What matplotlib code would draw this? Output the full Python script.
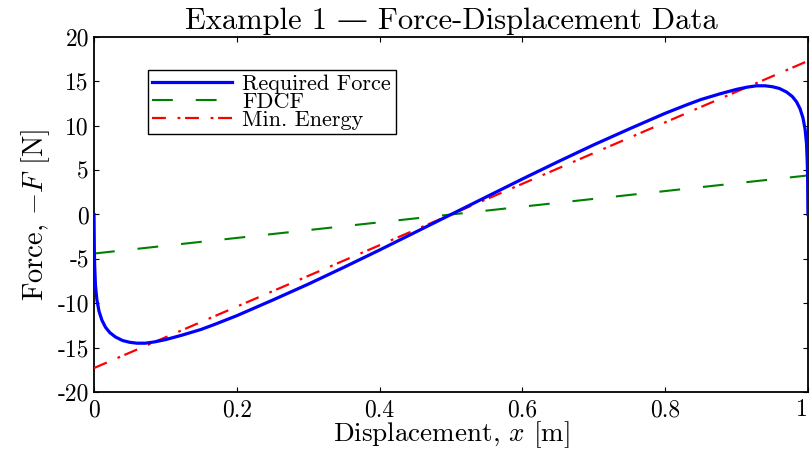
from matplotlib import pyplot as plt

plt.rcParams['font.family'] = ['cmr10', 'DejaVu Serif']
plt.rcParams['mathtext.fontset'] = 'cm'
plt.rcParams['axes.unicode_minus'] = False
plt.rcParams['lines.scale_dashes'] = False

# required force curve, F(x)
x_req = [0, 0.0005, 0.001, 0.002, 0.004, 0.007, 0.011, 0.016, 0.022, 0.03, 0.04, 0.05, 0.06, 0.072, 0.085,
         0.1, 0.123, 0.15, 0.17, 0.2, 0.25, 0.3, 0.35, 0.4, 0.45, 0.5,
         0.55, 0.6, 0.65, 0.7, 0.75, 0.8, 0.83, 0.85, 0.877, 0.9, 0.915, 0.928, 0.94, 0.95, 0.96,
         0.97, 0.978, 0.984, 0.989, 0.993, 0.996, 0.998, 0.999, 0.9995, 1.0]
f_req = [0, -4.5, -6.0, -8.0, -9.6, -10.9, -11.9, -12.7, -13.3, -13.8, -14.2, -14.4, -14.5, -14.5, -14.35,
         -14.1, -13.6, -12.95, -12.35, -11.4, -9.65, -7.85, -5.95, -4.0, -2.0, 0,
         2.0, 4.0, 5.95, 7.85, 9.65, 11.4, 12.35, 12.95, 13.6, 14.1, 14.35, 14.5, 14.5, 14.4, 14.2,
         13.8, 13.3, 12.7, 11.9, 10.9, 9.6, 8.0, 6.0, 4.5, 0]

# linear fits
x_fit = [0, 1]
f_fdcf = [-4.4, 4.4]
f_energy = [-17.3, 17.3]

x_ticks = [0, 0.2, 0.4, 0.6, 0.8, 1]
x_ticklabels = ['0', '0.2', '0.4', '0.6', '0.8', '1']
y_ticks = [-20, -15, -10, -5, 0, 5, 10, 15, 20]
y_ticklabels = ['-20', '-15', '-10', '-5', '0', '5', '10', '15', '20']

fig = plt.figure(figsize=(8.12, 4.51), dpi=100)
ax = fig.add_axes([0.1158, 0.1308, 0.8792, 0.7872])

ax.plot(x_req, f_req, color=(0, 0, 1), lw=2.3, label='Required Force', zorder=4)
ax.plot(x_fit, f_fdcf, color=(0, 0.5, 0), lw=1.5, dashes=(15, 16.5), label='FDCF', zorder=3)
ax.plot(x_fit, f_energy, color=(1, 0, 0), lw=1.6, dashes=(10, 8.4, 2, 3.4), label='Min. Energy', zorder=3)

ax.set_xlim(0, 1)
ax.set_ylim(-20, 20)
ax.set_xticks(x_ticks)
ax.set_xticklabels(x_ticklabels)
ax.set_yticks(y_ticks)
ax.set_yticklabels(y_ticklabels)
ax.tick_params(direction='in', top=True, right=True, length=3.8, width=0.8, labelsize=17)
ax.tick_params(axis='x', pad=5)
ax.tick_params(axis='y', pad=3.6)
# keep the last x label inside the figure
ax.get_xticklabels()[-1].set_ha('right')
for s in ax.spines.values():
    s.set_linewidth(1.3)

ax.set_xlabel('Displacement, $x$ [m]', fontsize=19.5, labelpad=-1)
ax.set_ylabel('Force, $-F$ [N]', fontsize=20.5, labelpad=4)
ax.set_title('Example 1 — Force-Displacement Data', fontsize=22, pad=6)

leg = ax.legend(loc='upper left', bbox_to_anchor=(0.0756, 0.907), borderaxespad=0, fontsize=16,
                handlelength=3.6, handletextpad=0.45, borderpad=0.2, labelspacing=-0.08,
                fancybox=False, framealpha=1, edgecolor='black')
leg.get_frame().set_linewidth(1.0)

plt.savefig('out.png', dpi=100)
plt.close()
